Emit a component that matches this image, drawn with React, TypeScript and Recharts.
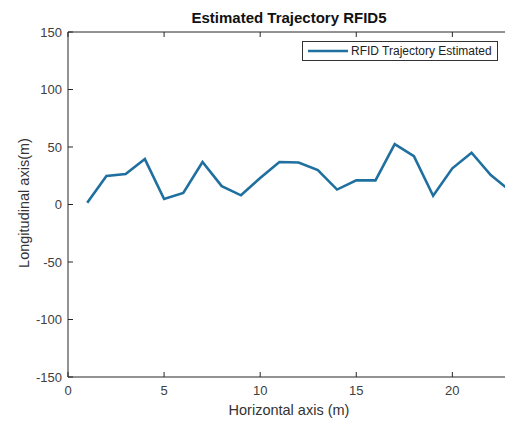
import { LineChart, Line, XAxis, YAxis } from 'recharts'

const xValues = [1, 2, 3, 4, 5, 6, 7, 8, 9, 10, 11, 12, 13, 14, 15, 16, 17, 18, 19, 20, 21, 22, 23]
const yValues = [1.5, 24.8, 26.5, 39.5, 4.8, 10, 37, 16, 8, 23, 37, 36.5, 30, 13, 21, 21, 52.5, 42, 7.6, 31.5, 45, 25.6, 12]
const xTicks = [0, 5, 10, 15, 20]
const yTicks = [-150, -100, -50, 0, 50, 100, 150]

const seriesName = 'RFID Trajectory Estimated'
const title = 'Estimated Trajectory RFID5'
const xLabel = 'Horizontal axis (m)'
const yLabel = 'Longitudinal axis(m)'

const data = xValues.map((x, i) => ({ x, y: yValues[i] }))

const FONT = '"Liberation Sans", Arial, sans-serif'
const AXIS = '#262626'
const LINE = '#1f6f9f'
const tickStyle = { fill: '#404040', fontSize: 13, fontFamily: FONT }

// tick marks only, no labels (top and right sides of the box)
const NoLabel = () => <g />

export default function App() {
  return (
    <div
      style={{
        position: 'absolute',
        left: 0,
        top: 0,
        width: 505,
        height: 422,
        overflow: 'hidden',
        background: '#fff',
        fontFamily: FONT,
      }}
    >
      <LineChart width={515} height={422} data={data} margin={{ top: 31, right: 4, left: 28, bottom: 0 }}>
        <XAxis
          xAxisId="b"
          type="number"
          dataKey="x"
          domain={[0, 23]}
          ticks={xTicks}
          interval={0}
          allowDataOverflow
          height={45}
          tickSize={-5}
          tickMargin={14}
          stroke={AXIS}
          tick={tickStyle}
        />
        <XAxis
          xAxisId="t"
          orientation="top"
          type="number"
          dataKey="x"
          domain={[0, 23]}
          ticks={xTicks}
          interval={0}
          allowDataOverflow
          height={1}
          tickSize={-5}
          stroke={AXIS}
          tick={<NoLabel />}
        />
        <YAxis
          yAxisId="l"
          type="number"
          domain={[-150, 150]}
          ticks={yTicks}
          interval={0}
          allowDataOverflow
          width={40}
          tickSize={-5}
          tickMargin={11}
          stroke={AXIS}
          tick={tickStyle}
        />
        <YAxis
          yAxisId="r"
          orientation="right"
          type="number"
          domain={[-150, 150]}
          ticks={yTicks}
          interval={0}
          allowDataOverflow
          width={1}
          tickSize={-5}
          stroke={AXIS}
          tick={<NoLabel />}
        />
        <Line
          xAxisId="b"
          yAxisId="l"
          type="linear"
          dataKey="y"
          name={seriesName}
          stroke={LINE}
          strokeWidth={2.6}
          dot={false}
          isAnimationActive={false}
        />
      </LineChart>

      <div
        style={{
          position: 'absolute',
          left: 0,
          width: 578,
          top: 9,
          textAlign: 'center',
          fontWeight: 'bold',
          fontSize: 15,
          color: '#111',
          lineHeight: '18px',
        }}
      >
        {title}
      </div>

      <div
        style={{
          position: 'absolute',
          left: 0,
          width: 578,
          top: 401,
          textAlign: 'center',
          fontSize: 14.5,
          color: '#333',
          lineHeight: '18px',
        }}
      >
        {xLabel}
      </div>

      <div
        style={{
          position: 'absolute',
          left: 24 - 100,
          top: 203 - 9,
          width: 200,
          textAlign: 'center',
          fontSize: 14.5,
          color: '#333',
          lineHeight: '18px',
          transform: 'rotate(-90deg)',
        }}
      >
        {yLabel}
      </div>

      <div
        style={{
          position: 'absolute',
          left: 302,
          top: 41,
          width: 194,
          height: 18,
          border: '1px solid #333',
          background: '#fff',
          display: 'flex',
          alignItems: 'center',
        }}
      >
        <svg width={46} height={18} style={{ flex: 'none' }}>
          <line x1={5} y1={9} x2={45} y2={9} stroke={LINE} strokeWidth={2.5} />
        </svg>
        <span style={{ fontSize: 12, color: '#222', marginLeft: 2, whiteSpace: 'nowrap' }}>{seriesName}</span>
      </div>
    </div>
  )
}
